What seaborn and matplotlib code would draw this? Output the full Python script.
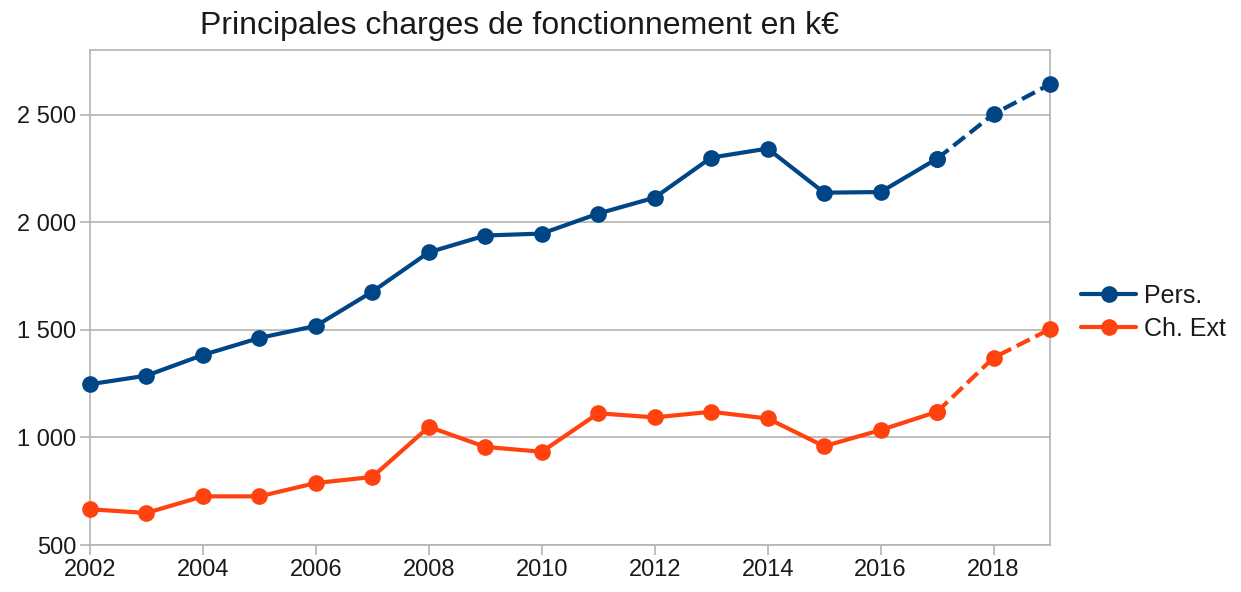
import matplotlib
matplotlib.use("Agg")
import matplotlib.pyplot as plt
from matplotlib.ticker import FuncFormatter, MultipleLocator
from matplotlib.lines import Line2D
import seaborn as sns
import pandas as pd

years = list(range(2002, 2020))
pers = [1247, 1287, 1383, 1462, 1518, 1677, 1860, 1938, 1947, 2040, 2114, 2300, 2342, 2137, 2140, 2295, 2502, 2641]
ch_ext = [666, 649, 726, 726, 788, 816, 1049, 956, 933, 1112, 1093, 1119, 1088, 959, 1034, 1119, 1370, 1503]
series_names = ["Pers.", "Ch. Ext"]
colors = ["#004586", "#ff420e"]
forecast_start = 2017
title = "Principales charges de fonctionnement en k€"

sns.set_theme(style="white")
plt.rcParams['font.family'] = ['Liberation Sans', 'DejaVu Sans']

fig = plt.figure(figsize=(12.41, 5.92), dpi=100)
ax = fig.add_axes([90/1241, 1-545/592, 960/1241, 495/592])

df = pd.DataFrame({"year": years, "Pers.": pers, "Ch. Ext": ch_ext})
for name, col in zip(series_names, colors):
    solid = df[df.year <= forecast_start]
    dashed = df[df.year >= forecast_start]
    sns.lineplot(x=solid.year, y=solid[name], ax=ax, color=col, lw=3,
                 marker="o", markersize=12, markeredgewidth=0, zorder=3, clip_on=False)
    sns.lineplot(x=dashed.year, y=dashed[name], ax=ax, color=col, lw=3,
                 marker="o", markersize=12, markeredgewidth=0, zorder=3, clip_on=False,
                 linestyle=(0, (3.5, 1.5)))

ax.set_xlim(2002, 2019)
ax.set_ylim(500, 2800)
ax.xaxis.set_major_locator(MultipleLocator(2))
ax.yaxis.set_major_locator(MultipleLocator(500))
ax.yaxis.set_major_formatter(FuncFormatter(lambda v, p: f"{int(v):,}".replace(",", " ")))
ax.set_xlabel("")
ax.set_ylabel("")
ax.grid(axis="y", color="#b3b3b3", lw=1.2)
ax.grid(axis="x", visible=False)
for s in ax.spines.values():
    s.set_color("#b3b3b3")
    s.set_linewidth(1.2)
ax.tick_params(axis="both", which="major", length=7, width=1.2, color="#b3b3b3",
               labelsize=17, labelcolor="#1a1a1a", direction="out",
               left=True, bottom=True, pad=3)
fig.text(519/1241, 1-26/592, title, fontsize=23, color="#1a1a1a",
         ha="center", va="center")

handles = [Line2D([0], [0], color=c, lw=3, marker="o", markersize=12, markeredgewidth=0)
           for c in colors]
ax.legend(handles, series_names, loc="center left", bbox_to_anchor=(1.022, 0.47),
          frameon=False, fontsize=18, handlelength=2.2, handletextpad=0.3,
          borderaxespad=0, labelspacing=0.35, labelcolor="#1a1a1a")

fig.savefig("out.png", dpi=100)
